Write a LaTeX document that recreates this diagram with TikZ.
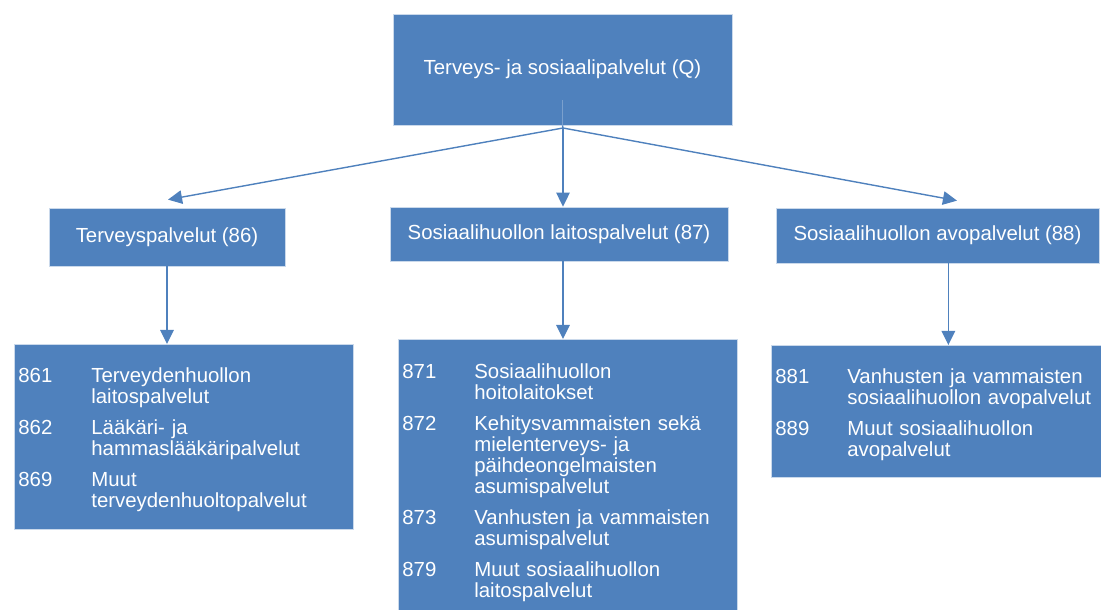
\documentclass[tikz,border=0pt]{standalone}
\usepackage{fontspec}
\setmainfont{Liberation Sans}
\usepackage{tikz}
\usetikzlibrary{positioning,calc,arrows.meta}

\definecolor{boxblue}{HTML}{4F81BD}
\newlength{\px}
\setlength{\px}{0.7113pt}
\newcommand{\topgap}{\rule{0pt}{16.2pt}}

\begin{document}
\begin{tikzpicture}[x=0.025cm,y=-0.025cm,
    box/.style={fill=boxblue,draw=white!70!boxblue,line width=0.5pt,text=white,
      font=\fontsize{14.5}{14.94}\selectfont,inner sep=0pt},
    listbox/.style={box,anchor=north west,inner xsep=4\px,align=left},
    conn/.style={draw=boxblue,line width=1pt},
    link/.style={conn,-{Triangle[length=10pt,width=9.6pt]}}]
    \useasboundingbox (0,0) rectangle (1101,610);
    \clip (0,0) rectangle (1101,610);
    % top level
    \node[box,minimum width=339\px,minimum height=111\px] (q) at (562.5,69.5)
        {\raisebox{-3\px}{Terveys- ja sosiaalipalvelut (Q)}};
    \coordinate (j) at (563,128);
    % second level
    \node[box,minimum width=236\px,minimum height=58\px] (n86) at (167,237)
        {Terveyspalvelut (86)};
    \node[box,minimum width=338\px,minimum height=54\px] (n87) at (559,234)
        {Sosiaalihuollon laitospalvelut (87)};
    \node[box,minimum width=323\px,minimum height=55\px] (n88) at (937.5,235.5)
        {Sosiaalihuollon avopalvelut (88)};
    % third level
    \node[listbox,text width=331\px,minimum height=185\px] (d86) at (14,344) {%
        \begin{tabular}{@{}p{73\px}@{}l@{}}
        861 & Terveydenhuollon\topgap\\
            & laitospalvelut\\[7pt]
        862 & Lääkäri- ja\\
            & hammaslääkäripalvelut\\[7pt]
        869 & Muut\\
            & terveydenhuoltopalvelut
        \end{tabular}};
    \node[listbox,text width=331\px,minimum height=280\px] (d87) at (398,339) {%
        \begin{tabular}{@{}p{72\px}@{}l@{}}
        871 & Sosiaalihuollon\topgap\\
            & hoitolaitokset\\[7pt]
        872 & Kehitysvammaisten sekä\\
            & mielenterveys- ja\\
            & päihdeongelmaisten\\
            & asumispalvelut\\[7pt]
        873 & Vanhusten ja vammaisten\\
            & asumispalvelut\\[7pt]
        879 & Muut sosiaalihuollon\\
            & laitospalvelut
        \end{tabular}};
    \node[listbox,text width=346\px,minimum height=132\px] (d88) at (771,345) {%
        \begin{tabular}{@{}p{72\px}@{}l@{}}
        881 & Vanhusten ja vammaisten\topgap\\
            & sosiaalihuollon avopalvelut\\[7pt]
        889 & Muut sosiaalihuollon\\
            & avopalvelut
        \end{tabular}};
    % connectors
    \draw[conn,draw=white!25!boxblue] ($(q.south)+(0,-25)$) -- (q.south);
    \draw[conn] (q.south) -- (j);
    \draw[link] (j) -- ($(n86.north)+(1,-8)$);
    \draw[link] (j) -- (j |- n87.north);
    \draw[link] (j) -- ($(n88.north)+(19.5,-7)$);
    \draw[link] (n86.south) -- (n86.south |- d86.north);
    \draw[link] (j |- n87.south) -- (j |- d87.north);
    \draw[link] (d88.north |- n88.south) -- (d88.north);
\end{tikzpicture}
\end{document}
